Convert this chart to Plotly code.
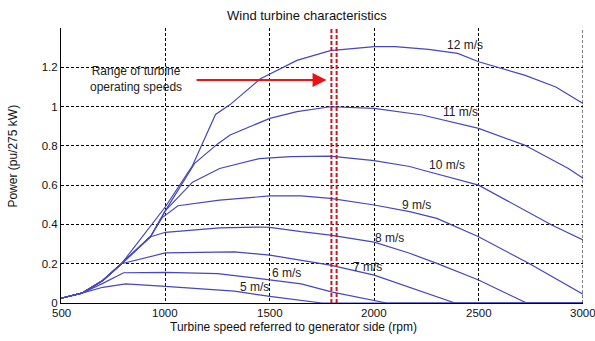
import plotly.graph_objects as go

# ---- data ----
v5_rpm = [500, 600, 700, 810, 1000, 1200, 1330, 1500, 1650, 1750, 3000]
v5_p = [0.024, 0.05, 0.08, 0.097, 0.085, 0.072, 0.06, 0.034, 0.012, 0.0, 0.0]

v6_rpm = [500, 600, 700, 800, 1000, 1250, 1500, 1650, 1800, 2060, 3000]
v6_p = [0.024, 0.05, 0.1, 0.154, 0.156, 0.15, 0.118, 0.097, 0.055, 0.0, 0.0]

v7_rpm = [500, 600, 700, 790, 1000, 1330, 1500, 1650, 1790, 2000, 2150, 2387, 3000]
v7_p = [0.024, 0.05, 0.115, 0.2, 0.255, 0.26, 0.244, 0.219, 0.193, 0.142, 0.087, 0.0, 0.0]

v8_rpm = [500, 600, 700, 790, 930, 1000, 1260, 1450, 1500, 1650, 1790, 2000, 2170, 2300, 2500, 2730, 3000]
v8_p = [0.024, 0.05, 0.115, 0.2, 0.337, 0.36, 0.382, 0.387, 0.385, 0.363, 0.346, 0.31, 0.253, 0.202, 0.117, 0.0, 0.0]

v9_rpm = [500, 600, 700, 790, 930, 985, 1060, 1260, 1500, 1650, 1790, 2000, 2170, 2300, 2500, 2740, 3000]
v9_p = [0.024, 0.05, 0.115, 0.2, 0.34, 0.435, 0.495, 0.524, 0.545, 0.545, 0.533, 0.499, 0.465, 0.431, 0.337, 0.202, 0.045]

v10_rpm = [500, 600, 700, 790, 930, 1000, 1130, 1260, 1450, 1600, 1790, 2000, 2170, 2230, 2500, 2850, 3000]
v10_p = [0.024, 0.05, 0.115, 0.2, 0.34, 0.47, 0.615, 0.685, 0.735, 0.745, 0.748, 0.725, 0.695, 0.677, 0.60, 0.397, 0.321]

v11_rpm = [500, 600, 700, 790, 930, 1000, 1140, 1250, 1310, 1500, 1630, 1790, 2000, 2230, 2500, 2720, 2930, 3000]
v11_p = [0.024, 0.05, 0.115, 0.2, 0.34, 0.47, 0.711, 0.81, 0.855, 0.94, 0.974, 0.999, 0.991, 0.957, 0.889, 0.804, 0.685, 0.635]

v12_rpm = [500, 600, 700, 790, 1000, 1130, 1240, 1310, 1453, 1630, 1790, 2000, 2100, 2260, 2400, 2500, 2720, 2870, 3000]
v12_p = [0.024, 0.05, 0.115, 0.2, 0.49, 0.70, 0.96, 1.01, 1.14, 1.235, 1.285, 1.305, 1.305, 1.291, 1.271, 1.228, 1.16, 1.10, 1.016]

curve_labels = ["5 m/s", "6 m/s", "7 m/s", "8 m/s", "9 m/s", "10 m/s", "11 m/s", "12 m/s"]
label_rpm = [1429, 1578, 1969, 2072, 2204, 2347, 2411, 2435]
label_p = [0.080, 0.151, 0.185, 0.329, 0.499, 0.702, 0.974, 1.313]

range_lines_rpm = [1795, 1820]
arrow_from_rpm, arrow_to_rpm, arrow_p = 1142, 1772, 1.135
range_text = "Range of turbine<br>operating speeds"
range_text_rpm, range_text_p = 859, 1.14

x_ticks = [500, 1000, 1500, 2000, 2500, 3000]
x_tick_text = ["500", "1000", "1500", "2000", "2500", "3000"]
y_ticks = [0, 0.2, 0.4, 0.6, 0.8, 1.0, 1.2]
y_tick_text = ["0", "0.2", "0.4", "0.6", "0.8", "1", "1.2"]

title_text = "Wind turbine characteristics"
x_title = "Turbine speed referred to generator side (rpm)"
y_title = "Power (pu/275 kW)"

FONT = "Liberation Sans, Arial, sans-serif"
BLUE = "rgb(70,70,190)"
RED = "rgb(200,25,35)"

fig = go.Figure()
series = [(v5_rpm, v5_p), (v6_rpm, v6_p), (v7_rpm, v7_p), (v8_rpm, v8_p),
          (v9_rpm, v9_p), (v10_rpm, v10_p), (v11_rpm, v11_p), (v12_rpm, v12_p)]
for (xs, ys), name in zip(series, curve_labels):
    fig.add_trace(go.Scatter(x=xs, y=ys, mode="lines", name=name,
                             line=dict(color=BLUE, width=1.2), hoverinfo="skip"))

for xr in range_lines_rpm:
    fig.add_trace(go.Scatter(x=[xr, xr], y=[0, 1.4], mode="lines",
                             line=dict(color=RED, width=2, dash="4px,2px"),
                             hoverinfo="skip"))

# right-edge dotted grid line (at x = 3000)
fig.add_shape(type="line", xref="x", yref="y", x0=x_ticks[-1], x1=x_ticks[-1],
              y0=0, y1=1.4, line=dict(color="black", width=1, dash="3px,2px"))

for t, xl, yl in zip(curve_labels, label_rpm, label_p):
    fig.add_annotation(x=xl, y=yl, text=t, showarrow=False,
                       xanchor="center", yanchor="middle",
                       font=dict(family=FONT, size=12, color="#222"))

# x tick labels (drawn as annotations so the last one is not clipped)
for xv, xt in zip(x_ticks, x_tick_text):
    fig.add_annotation(x=xv, xref="x", y=-0.036, yref="paper", text=xt,
                       showarrow=False, xanchor="center", yanchor="middle",
                       font=dict(family=FONT, size=11.5, color="#111"))

fig.add_annotation(x=arrow_to_rpm, y=arrow_p, ax=arrow_from_rpm, ay=arrow_p,
                   xref="x", yref="y", axref="x", ayref="y", text="",
                   showarrow=True, arrowhead=2, arrowsize=1.4, arrowwidth=2,
                   arrowcolor="rgb(235,20,20)")
fig.add_annotation(x=range_text_rpm, y=range_text_p, text=range_text, showarrow=False,
                   align="center", xanchor="center", yanchor="middle",
                   font=dict(family=FONT, size=12, color="#222"))

fig.add_annotation(xref="paper", yref="paper", x=0.4707, y=1.047, text=title_text,
                   xanchor="center", yanchor="middle",
                   showarrow=False, font=dict(family=FONT, size=13, color="#111"))
fig.add_annotation(xref="paper", yref="paper", x=0.446, y=-0.087, text=x_title,
                   xanchor="center", yanchor="middle",
                   showarrow=False, font=dict(family=FONT, size=12, color="#111"))
fig.add_annotation(xref="paper", yref="paper", x=-0.092, y=0.536, text=y_title,
                   xanchor="center", yanchor="middle",
                   textangle=-90, showarrow=False,
                   font=dict(family=FONT, size=12, color="#111"))

fig.update_layout(
    width=595, height=341,
    margin=dict(l=61, r=12, t=28, b=38),
    paper_bgcolor="white", plot_bgcolor="white",
    showlegend=False,
    font=dict(family=FONT, size=11.5, color="#111"),
)
fig.update_xaxes(range=[500, 3000], tickvals=x_ticks, showticklabels=False,
                 showline=True, linecolor="black",
                 linewidth=1, showgrid=True, gridcolor="black", gridwidth=1,
                 griddash="3px,2px", zeroline=False, ticks="", ticklen=0)
fig.update_yaxes(range=[0, 1.4], tickvals=y_ticks, ticktext=y_tick_text, showline=True,
                 linecolor="black", linewidth=1, showgrid=True, gridcolor="black",
                 gridwidth=1, griddash="3px,2px", zeroline=False, ticks="", ticklen=0)

fig.write_html("out.html", config={"displayModeBar": False},
               post_script="document.body.style.margin='0px';")
